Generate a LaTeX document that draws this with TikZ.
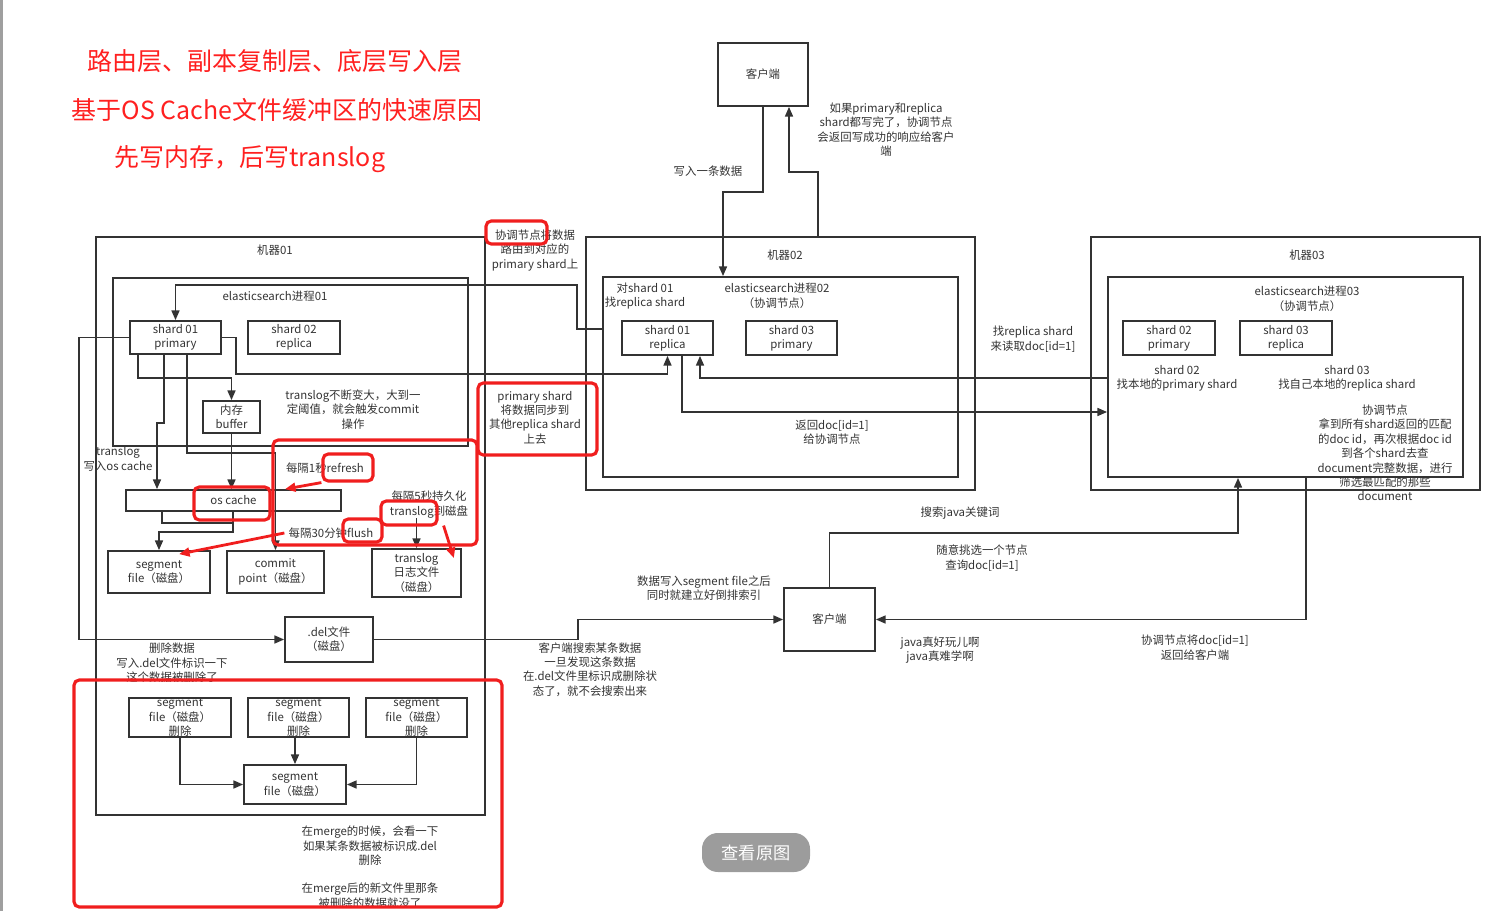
\documentclass[tikz,border=0pt]{standalone}
\usepackage{fontspec}
\setmainfont{Noto Sans CJK SC}
\usetikzlibrary{arrows.meta, calc}
\definecolor{linec}{RGB}{51,51,51}
\definecolor{hlred}{RGB}{240,30,30}
\definecolor{titred}{RGB}{255,32,32}
\definecolor{btngray}{RGB}{156,156,156}
\newcommand\lblfont{\fontsize{6.5}{8.2}\selectfont}

\begin{document}
\begin{tikzpicture}[
  x=0.02cm, y=-0.02cm,
  box/.style={draw=linec, line width=1pt, align=center, inner sep=0pt, text=linec, font=\lblfont},
  bx/.style 2 args={minimum width=#1*0.02cm, minimum height=#2*0.02cm},
  lbl/.style={align=center, inner sep=0pt, text=linec, font=\lblfont},
  title/.style={inner sep=0pt, text=titred, font=\fontsize{14.2}{16}\selectfont},
  conn/.style={draw=linec, line width=1pt},
  arr/.style={conn, -{Triangle[length=5.5pt, width=4.5pt]}},
  hl/.style={draw=hlred, line width=1.8pt, rounded corners=3pt, inner sep=0pt},
  redarr/.style={draw=hlred, line width=1.6pt, -{Triangle[length=6pt, width=5pt]}}
]
  \useasboundingbox (0,0) rectangle (1510,911);
  \fill[gray!75] (0,0) rectangle (3,911);

  \node[title] (tit1) at (275,61) {路由层、副本复制层、底层写入层};
  \node[title] (tit2) at (277,110) {基于OS Cache文件缓冲区的快速原因};
  \node[title] (tit3) at (250,159) {先写内存，后写translog};

  \node[box, bx={90}{63}] (cli1) at (763,74.5) {客户端};
  \node[lbl] (lblwrite) at (708,171) {写入一条数据};
  \node[lbl] (lblok) at (886,129.5) {如果primary和replica\\shard都写完了，协调节点\\会返回写成功的响应给客户\\端};

  \node[box, bx={389}{578}] (m01) at (290.5,526) {};
  \node[lbl] (m01lbl) at (275,250) {机器01};
  \node[box, bx={355}{168}] (es01) at (290.5,362) {};
  \node[lbl] (es01lbl) at (275,296) {elasticsearch进程01};
  \node[box, bx={91}{33}] (sh01p) at (175.5,337.5) {shard 01\\primary};
  \node[box, bx={92}{33}] (sh02r) at (294,337.5) {shard 02\\replica};
  \node[box, bx={57}{32}] (buf) at (231.5,417) {内存\\buffer};
  \node[box, bx={215}{21}] (osc) at (233.5,500.5) {os cache};
  \node[box, bx={102}{42}] (seg) at (159,572) {segment\\file（磁盘）};
  \node[box, bx={97}{42}] (commit) at (275.5,572) {commit\\point（磁盘）};
  \node[box, bx={89}{48}] (tlog) at (416.5,573) {translog\\日志文件\\（磁盘）};
  \node[box, bx={88}{45}] (del) at (329,639.5) {.del文件\\（磁盘）};
  \node[lbl] (lblcommit) at (353,409.5) {translog不断变大，大到一\\定阈值，就会触发commit\\操作};
  \node[lbl] (lbltw) at (118,459) {translog\\写入os cache};
  \node[lbl] (lbl1s) at (325,468) {每隔1秒refresh};
  \node[lbl] (lbl5) at (429,504.5) {每隔5秒持久化\\translog到磁盘};
  \node[lbl] (lbl30) at (331,533) {每隔30分钟flush};
  \node[lbl] (lbldel) at (172,663) {删除数据\\写入.del文件标识一下\\这个数据被删除了};

  \node[box, bx={102}{39}] (s1) at (180,717.5) {segment\\file（磁盘）\\删除};
  \node[box, bx={101}{39}] (s2) at (298.5,717.5) {segment\\file（磁盘）\\删除};
  \node[box, bx={101}{39}] (s3) at (416.5,717.5) {segment\\file（磁盘）\\删除};
  \node[box, bx={102}{39}] (sm) at (295,784.5) {segment\\file（磁盘）};
  \node[lbl] (lblmerge) at (370,846) {在merge的时候，会看一下\\如果某条数据被标识成.del\\删除};
  \node[lbl] (lblmerge2) at (370,895.5) {在merge后的新文件里那条\\被删除的数据就没了};

  \node[lbl] (lblroute) at (535,250.5) {协调节点将数据\\路由到对应的\\primary shard上};
  \node[lbl] (lblsync) at (535,417.5) {primary shard\\将数据同步到\\其他replica shard\\上去};

  \node[box, bx={389}{253}] (m02) at (780.5,363.5) {};
  \node[lbl] (m02lbl) at (785,255) {机器02};
  \node[box, bx={355}{200}] (es02) at (780.5,377) {};
  \node[lbl] (lblfind) at (645,296) {对shard 01\\找replica shard};
  \node[lbl] (es02lbl) at (777,296) {elasticsearch进程02\\（协调节点）};
  \node[box, bx={91}{34}] (sh01r) at (667.5,338) {shard 01\\replica};
  \node[box, bx={91}{34}] (sh03p) at (791.5,338) {shard 03\\primary};
  \node[lbl] (lblret) at (832,432) {返回doc[id=1]\\给协调节点};
  \node[lbl] (lblread) at (1033,339) {找replica shard\\来读取doc[id=1]};

  \node[box, bx={389}{253}] (m03) at (1285.5,363.5) {};
  \node[lbl] (m03lbl) at (1307,255) {机器03};
  \node[box, bx={355}{200}] (es03) at (1285.5,377) {};
  \node[lbl] (es03lbl) at (1307,299) {elasticsearch进程03\\（协调节点）};
  \node[box, bx={92}{34}] (sh02p) at (1169,338) {shard 02\\primary};
  \node[box, bx={92}{34}] (sh03r) at (1286,338) {shard 03\\replica};
  \node[lbl] (lbl02) at (1177,378) {shard 02\\找本地的primary shard};
  \node[lbl] (lbl03) at (1347,378) {shard 03\\找自己本地的replica shard};
  \node[lbl] (lblcoord) at (1385,453) {协调节点\\拿到所有shard返回的匹配\\的doc id，再次根据doc id\\到各个shard去查\\document完整数据，进行\\筛选最匹配的那些\\document};

  \node[box, bx={91}{63}] (cli2) at (829.5,619.5) {客户端};
  \node[lbl] (lblsearch) at (960,513) {搜索java关键词};
  \node[lbl] (lblpick) at (982,558) {随意挑选一个节点\\查询doc[id=1]};
  \node[lbl] (lbljava) at (940,650) {java真好玩儿啊\\java真难学啊};
  \node[lbl] (lblback) at (1195,647.5) {协调节点将doc[id=1]\\返回给客户端};
  \node[lbl] (lblinv) at (704,588) {数据写入segment file之后\\同时就建立好倒排索引};
  \node[lbl] (lblcs) at (590,669.5) {客户端搜索某条数据\\一旦发现这条数据\\在.del文件里标识成删除状\\态了，就不会搜索出来};

  \node[fill=btngray, rounded corners=9pt, minimum width=108*0.02cm, minimum height=39*0.02cm, inner sep=0pt, text=white, font=\fontsize{9.8}{11}\selectfont] (btn) at (756,852.5) {查看原图};

  \draw[arr] (cli1.south) |- (723,192) -- (es02.north -| 723,0);
  \draw[arr] (m02.north -| 818,0) |- (789,172) -- (cli1.south -| 789,0);
  \draw[arr] (es02.west |- 0,329) -| (577,285) -| (sh01p.north);
  \draw[arr] (sh01p.east) -| (236,374) -| (sh01r.south);
  \draw[arr] (sh01r.south -| 682,0) |- (es03.west |- 0,412);
  \draw[arr] (es03.west |- 0,378) -| (sh01r.south -| 700,0);
  \draw[arr] (sh01p.west) -| (79,0 |- del.west) -- (del.west);
  \draw[arr] (sh01p.south -| 138,0) |- (buf.north |- 0,378) -- (buf.north);
  \draw[arr] (sh01p.south -| 164,0) |- (157,423) -- (osc.north -| 157,0);
  \draw[arr] (sh01p.south -| 187,0) |- (commit.north |- 0,453) -- (commit.north);
  \draw[arr] (buf.south) -- (buf.south |- osc.north);
  \draw[conn] (osc.south -| 162,0) |- (233,523);
  \draw[arr] (osc.south -| 233,0) |- (seg.north |- 0,532) -- (seg.north);
  \draw[arr] (tlog.north |- lbl5.south) -- (tlog.north);
  \draw[arr] (del.east) -| (578,0 |- cli2.west) -- (cli2.west);
  \draw[arr] (cli2.north) |- (1238,533) -- (es03.south -| 1238,0);
  \draw[arr] (es03.south -| 1306,0) |- (cli2.east);
  \draw[arr] (s1.south) |- (sm.west);
  \draw[arr] (s2.south -| sm.north) -- (sm.north);
  \draw[arr] (s3.south) |- (sm.east);

  \node[hl, bx={61}{23}] (hlcoord) at (516.5,232.5) {};
  \node[hl, bx={119}{72}] (hlsync) at (537.5,419) {};
  \node[hl, bx={204}{105}] (hlbig) at (375,492.5) {};
  \node[hl, bx={50}{27}] (hlref) at (348,467.5) {};
  \node[hl, bx={76}{33}] (hlosc) at (232,503.5) {};
  \node[hl, bx={56}{24}] (hltl) at (409,513) {};
  \node[hl, bx={39}{23}] (hlfl) at (362.5,530.5) {};
  \node[hl, bx={428}{227}] (hlmerge) at (288,793.5) {};
  \draw[redarr] (hlref.south west) -- (osc.north -| 285,0);
  \draw[redarr] ($(lbl30.west)+(-4,0)$) -- ($(seg.north)+(20,4)$);
  \draw[redarr] ($(hltl.south east)+(5,-1)$) -- ($(tlog.north east)+(-8,10)$);
\end{tikzpicture}
\end{document}
